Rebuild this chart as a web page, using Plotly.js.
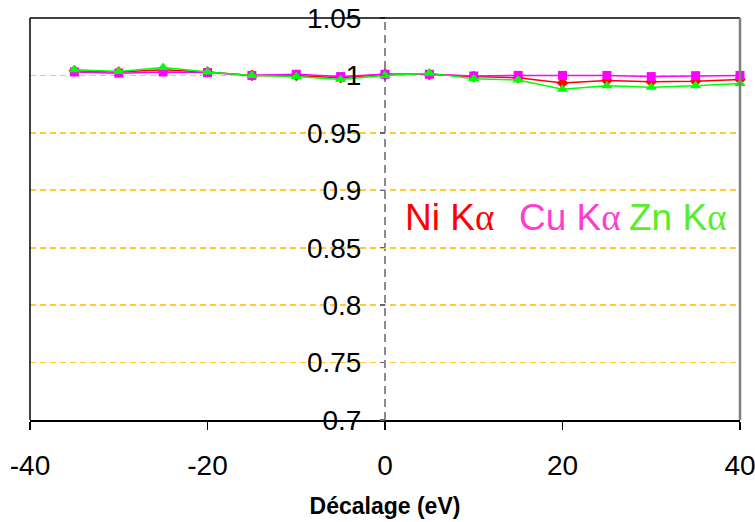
<!DOCTYPE html>
<html>
<head>
<meta charset="utf-8">
<script src="https://cdn.plot.ly/plotly-3.0.1.min.js"></script>
<style>
  html, body { margin: 0; padding: 0; background: #fff; }
  #chart { width: 755px; height: 522px; }
</style>
</head>
<body>
<div id="chart"></div>
<script>
// Energy offset (eV) of each measurement
const decalage = [-35, -30, -25, -20, -15, -10, -5, 0, 5, 10, 15, 20, 25, 30, 35, 40];

// Normalised intensity for each emission line
const niKa = [1.004, 1.003, 1.005, 1.003, 1.000, 1.000, 0.998, 1.001, 1.001, 0.999, 0.998, 0.9935, 0.9955, 0.9945, 0.995, 0.9965];
const cuKa = [1.003, 1.002, 1.003, 1.0025, 1.000, 1.001, 0.999, 1.001, 1.001, 0.9995, 1.000, 1.000, 1.000, 0.999, 0.9998, 1.000];
const znKa = [1.005, 1.0035, 1.007, 1.003, 1.000, 0.999, 0.9965, 1.000, 1.002, 0.997, 0.996, 0.988, 0.991, 0.9897, 0.991, 0.993];

// Axis ticks
const xTicks = [-40, -20, 0, 20, 40];
const yTicks = [0.7, 0.75, 0.8, 0.85, 0.9, 0.95, 1, 1.05];
const yTickText = ['0.7', '0.75', '0.8', '0.85', '0.9', '0.95', '1', '1.05'];

const FONT = '"Liberation Sans", Arial, sans-serif';
const ALPHA = '<span style="font-family:\'Liberation Serif\', \'Times New Roman\', serif">α</span>';

const series = [
  { name: 'Ni Kα', y: niKa, color: '#ff0000', symbol: 'diamond', size: 9 },
  { name: 'Cu Kα', y: cuKa, color: '#ff00ff', symbol: 'square', size: 9 },
  { name: 'Zn Kα', y: znKa, color: '#00ff00', symbol: 'triangle-up', size: 10 }
];

const traces = series.map(s => ({
  type: 'scatter',
  mode: 'lines+markers',
  name: s.name,
  x: decalage,
  y: s.y,
  line: { color: s.color, width: 1.5 },
  marker: { color: s.color, symbol: s.symbol, size: s.size },
  cliponaxis: false
}));

const layout = {
  width: 755,
  height: 522,
  margin: { l: 30, r: 15, t: 18, b: 102 },
  paper_bgcolor: '#ffffff',
  plot_bgcolor: '#ffffff',
  showlegend: false,
  font: { family: FONT, color: '#000' },
  xaxis: {
    range: [-40.0001, 40.0001],
    tickvals: xTicks,
    ticktext: xTicks.map(String),
    ticks: 'outside',
    ticklen: 8,
    tickwidth: 1.5,
    tickcolor: '#000',
    ticklabelstandoff: 12,
    ticklabeloverflow: 'allow',
    tickfont: { family: FONT, size: 28, color: '#000' },
    showline: true,
    linecolor: '#000',
    linewidth: 1.5,
    showgrid: false,
    zeroline: false,
    title: {
      text: '<b>Décalage (eV)</b>',
      font: { family: FONT, size: 23, color: '#000' },
      standoff: 18
    }
  },
  yaxis: {
    range: [0.7, 1.05],
    anchor: 'free',
    position: 0.5,
    tickvals: yTicks,
    ticktext: yTickText,
    ticks: 'outside',
    ticklen: 5,
    tickwidth: 1.5,
    tickcolor: '#666666',
    ticklabelstandoff: 13,
    tickfont: { family: FONT, size: 28, color: '#000' },
    showline: false,
    showgrid: true,
    gridcolor: '#ffcc33',
    gridwidth: 1.6,
    griddash: '6px,4px',
    zeroline: false
  },
  shapes: [
    // dashed vertical line at zero offset
    { type: 'line', xref: 'x', yref: 'paper', x0: 0, x1: 0, y0: 0, y1: 1,
      line: { color: '#666666', width: 1.5, dash: '8px,5px' }, layer: 'below' },
    // plot frame
    { type: 'line', xref: 'paper', yref: 'paper', x0: 0, x1: 1, y0: 1, y1: 1,
      line: { color: '#000', width: 1.5 } },
    { type: 'line', xref: 'paper', yref: 'paper', x0: 0, x1: 0, y0: 0, y1: 1,
      line: { color: '#000', width: 1.5 } },
    { type: 'line', xref: 'paper', yref: 'paper', x0: 1, x1: 1, y0: 0, y1: 1,
      line: { color: '#808080', width: 2.5 } }
  ],
  annotations: [
    { text: 'Ni K' + ALPHA, x: 7.3, y: 0.876, xref: 'x', yref: 'y', showarrow: false,
      font: { family: FONT, size: 37, color: '#ff0000' } },
    { text: 'Cu K' + ALPHA, x: 20.8, y: 0.876, xref: 'x', yref: 'y', showarrow: false,
      font: { family: FONT, size: 37, color: '#ff3cd0' } },
    { text: 'Zn K' + ALPHA, x: 33.0, y: 0.876, xref: 'x', yref: 'y', showarrow: false,
      font: { family: FONT, size: 37, color: '#55ee2c' } }
  ]
};

Plotly.newPlot('chart', traces, layout, { displayModeBar: false, staticPlot: true });
</script>
</body>
</html>
